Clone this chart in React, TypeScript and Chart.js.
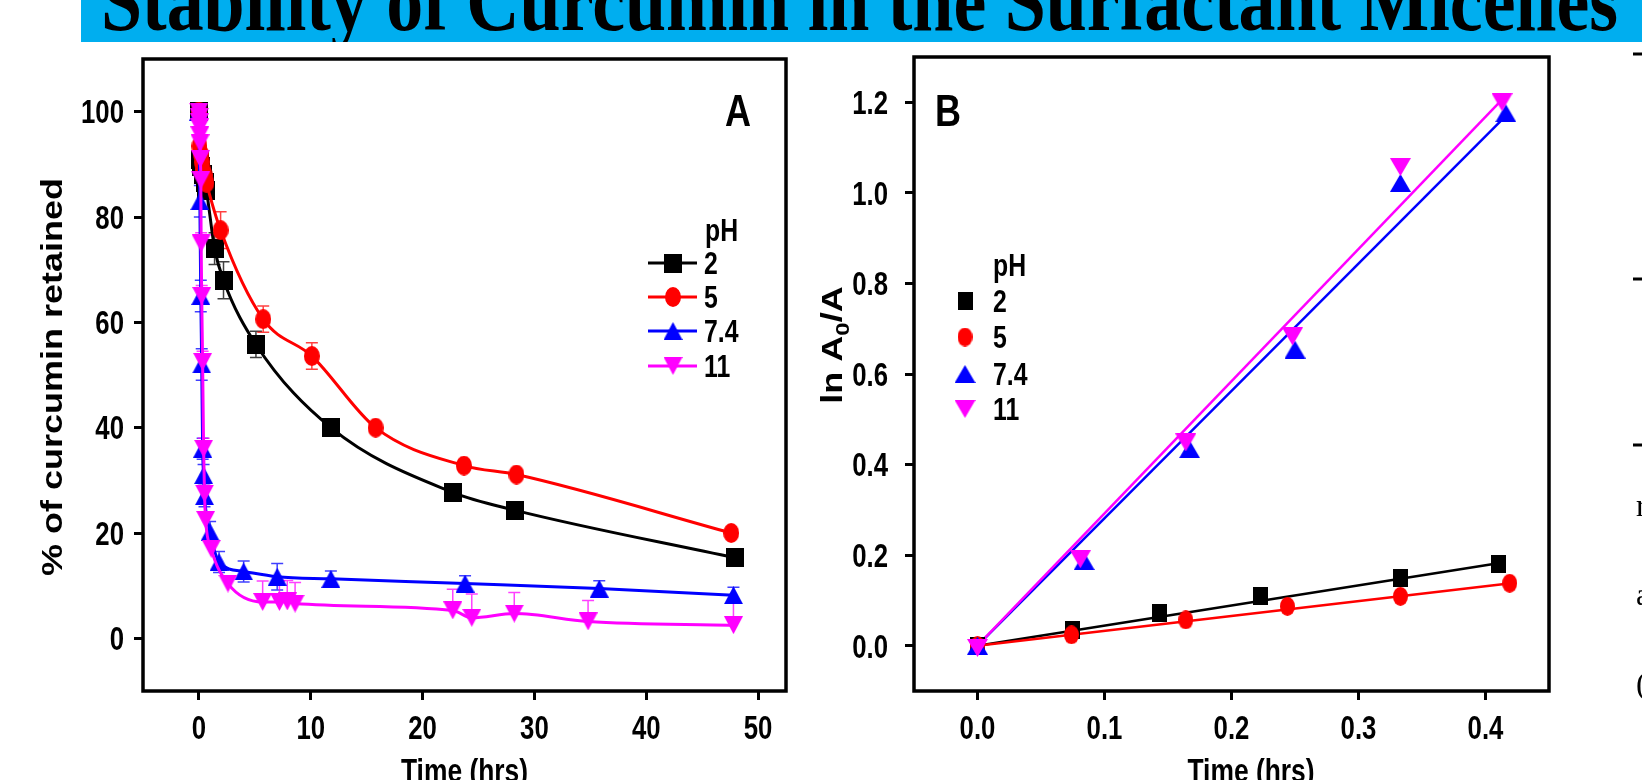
import React, { useEffect, useRef } from 'react';
import { Chart, registerables } from 'chart.js';

Chart.register(...registerables);

// ---------------- text ----------------
const slideTitle = 'Stability of Curcumin in the Surfactant Micelles';
const legendTitle = 'pH';
const seriesNames = ['2', '5', '7.4', '11'];
const seriesColors = ['#000000', '#ff0000', '#0000ff', '#ff00ff'];
const panelALabel = 'A';
const panelBLabel = 'B';
const xTitle = 'Time (hrs)';
const yTitleA = '% of curcumin retained';
const sideFragments = ['r', 'a', '('];

// ---------------- panel A : % retained vs time ----------------
const aTicksX = [0, 10, 20, 30, 40, 50];
const aTicksY = [0, 20, 40, 60, 80, 100];

const aTime_pH2 = [0, 0.08, 0.17, 0.33, 0.5, 0.67, 1.4, 2.2, 5.1, 11.8, 22.7, 28.3, 47.9];
const aRet_pH2 = [100, 91, 89.5, 88, 86.5, 85, 74, 68, 55.8, 40, 27.7, 24.3, 15.3];
const aErr_pH2 = [0, 1.5, 1.5, 1.5, 1.5, 1.5, 3, 3.5, 2.5, 1.5, 1, 1, 1];

const aTime_pH5 = [0, 0.05, 0.17, 0.25, 0.33, 0.5, 0.67, 1.94, 5.75, 10.1, 15.8, 23.7, 28.4, 47.6];
const aRet_pH5 = [100, 93.5, 92, 90.5, 89, 88, 86.5, 77.5, 60.6, 53.6, 40, 32.8, 31.1, 20.0];
const aErr_pH5 = [0, 1, 1, 1, 1, 1, 1, 3.5, 2.5, 2.5, 1, 0.8, 0.8, 0.8];

const aTime_pH74 = [0, 0.083, 0.167, 0.25, 0.333, 0.417, 0.5, 1.0, 1.8, 4.0, 7.0, 11.8, 23.8, 35.8, 47.8];
const aRet_pH74 = [100, 83, 65, 52, 36, 31, 27, 20.2, 14.5, 12.7, 11.7, 11.3, 10.4, 9.45, 8.2];
const aErr_pH74 = [0, 3, 3, 3, 2, 2, 2, 2, 2, 2, 2.5, 1.5, 1.5, 1.5, 1.5];

const aTime_pH11 = [0, 0.02, 0.04, 0.06, 0.08, 0.1, 0.13, 0.17, 0.2, 0.25, 0.33, 0.42, 0.5, 0.6, 1.1, 2.6, 5.7, 7.2, 7.9, 8.6, 22.7, 24.4, 28.2, 34.8, 47.8];
const aRet_pH11 = [100, 99, 98, 97, 95.5, 94, 91, 87, 75, 65, 52.5, 36, 27.5, 22.5, 17, 10.4, 6.9, 6.9, 7.0, 6.6, 5.3, 3.9, 4.7, 3.2, 2.5];
const aErr_pH11 = [0, 0, 0, 0, 0, 0, 0, 0, 2, 2, 2, 2, 1.5, 1.5, 1.5, 1.5, 4, 4, 4, 4, 4, 4.5, 4, 4, 5];

// ---------------- panel B : ln(A0/A) vs time ----------------
const bTicksX = [0, 0.1, 0.2, 0.3, 0.4];
const bTicksY = [0, 0.2, 0.4, 0.6, 0.8, 1.0, 1.2];

const bTime_pH2 = [0, 0.075, 0.143, 0.223, 0.333, 0.41];
const bLn_pH2 = [0, 0.035, 0.072, 0.109, 0.149, 0.18];
const bTime_pH5 = [0, 0.074, 0.164, 0.244, 0.333, 0.419];
const bLn_pH5 = [0, 0.024, 0.057, 0.087, 0.109, 0.138];
const bTime_pH74 = [0, 0.084, 0.167, 0.25, 0.333, 0.416];
const bLn_pH74 = [0, 0.187, 0.434, 0.654, 1.022, 1.176];
const bTime_pH11 = [0, 0.081, 0.164, 0.248, 0.333, 0.413];
const bLn_pH11 = [-0.005, 0.191, 0.449, 0.683, 1.057, 1.2];

// linear fits (start and end of each fitted line)
const bFitX_pH2 = [0, 0.41];
const bFitY_pH2 = [0, 0.182];
const bFitX_pH5 = [0, 0.42];
const bFitY_pH5 = [0, 0.138];
const bFitX_pH74 = [0, 0.416];
const bFitY_pH74 = [0, 1.17];
const bFitX_pH11 = [0, 0.413];
const bFitY_pH11 = [0, 1.206];

// ---------------- style ----------------
const SANS = '"Liberation Sans", Arial, sans-serif';
const SERIF = '"Liberation Serif", "Times New Roman", serif';
const SQUISH = 0.8;
const TICK_SIZE = 33;
const TICK_SQUISH = 0.78;

const zip = (xs: number[], ys: number[]) => xs.map((x, i) => ({ x, y: ys[i] }));
const fmtInt = (v: number) => String(Math.round(v));
const fmt1 = (v: number) => v.toFixed(1);

function marker(shape: string, color: string, w: number, h: number) {
  const c = document.createElement('canvas');
  c.width = w;
  c.height = h;
  const g = c.getContext('2d')!;
  g.fillStyle = color;
  g.beginPath();
  if (shape === 'square') g.rect(0, 0, w, h);
  else if (shape === 'circle') g.ellipse(w / 2, h / 2, w / 2, h / 2, 0, 0, Math.PI * 2);
  else if (shape === 'up') { g.moveTo(w / 2, 0); g.lineTo(w, h); g.lineTo(0, h); g.closePath(); }
  else { g.moveTo(0, 0); g.lineTo(w, 0); g.lineTo(w / 2, h); g.closePath(); }
  g.fill();
  return c;
}

function drawText(ctx: CanvasRenderingContext2D, text: string, x: number, y: number, o: any) {
  ctx.save();
  ctx.translate(x, y);
  ctx.scale(o.sx ?? SQUISH, 1);
  if (o.rotate) ctx.rotate(o.rotate);
  ctx.font = `bold ${o.size}px ${o.family ?? SANS}`;
  ctx.textAlign = o.align ?? 'center';
  ctx.textBaseline = 'alphabetic';
  ctx.fillStyle = '#000';
  ctx.fillText(text, 0, 0.358 * o.size);
  ctx.restore();
}

const errorBarPlugin = {
  id: 'errorBars',
  beforeDatasetsDraw(chart: any) {
    const { ctx } = chart;
    const xs = chart.scales.x;
    const ys = chart.scales.y;
    chart.data.datasets.forEach((ds: any) => {
      if (!ds.errors) return;
      ctx.save();
      ctx.strokeStyle = ds.borderColor;
      ctx.globalAlpha = 0.75;
      ctx.lineWidth = 1.5;
      ds.data.forEach((p: any, j: number) => {
        const e = ds.errors[j];
        if (!e) return;
        const px = xs.getPixelForValue(p.x);
        const y1 = ys.getPixelForValue(p.y + e);
        const y2 = ys.getPixelForValue(ds.errorUpOnly ? p.y : p.y - e);
        ctx.beginPath();
        ctx.moveTo(px, y1); ctx.lineTo(px, y2);
        ctx.moveTo(px - 6, y1); ctx.lineTo(px + 6, y1);
        if (!ds.errorUpOnly) { ctx.moveTo(px - 6, y2); ctx.lineTo(px + 6, y2); }
        ctx.stroke();
      });
      ctx.restore();
    });
  },
};

function decorPlugin(cfg: any) {
  return {
    id: 'decor',
    afterDraw(chart: any) {
      const { ctx, chartArea: a } = chart;
      ctx.save();
      ctx.strokeStyle = '#000';
      ctx.lineWidth = 3.5;
      ctx.strokeRect(a.left, a.top, a.right - a.left, a.bottom - a.top);
      ctx.restore();
      const xs = chart.scales.x;
      const ys = chart.scales.y;
      xs.ticks.forEach((t: any) => drawText(ctx, cfg.fmtX(t.value), xs.getPixelForValue(t.value), cfg.xLabelY, { size: TICK_SIZE, sx: TICK_SQUISH }));
      ys.ticks.forEach((t: any) => drawText(ctx, cfg.fmtY(t.value), cfg.yLabelRight, ys.getPixelForValue(t.value), { size: TICK_SIZE, sx: TICK_SQUISH, align: 'right' }));
      cfg.draw(ctx, a);
    },
  };
}

function axisOpts(ticks: number[], min: number, max: number, size: { w?: number; h?: number }) {
  return {
    type: 'linear',
    min,
    max,
    afterBuildTicks: (s: any) => { s.ticks = ticks.map((v) => ({ value: v })); },
    afterFit: (s: any) => {
      if (size.w !== undefined) s.width = size.w;
      if (size.h !== undefined) s.height = size.h;
    },
    grid: { drawOnChartArea: false, drawTicks: true, tickLength: 9, lineWidth: 3, color: '#000' },
    border: { display: false },
    ticks: { display: false, autoSkip: false },
  };
}

export default function App() {
  const decoRef = useRef<HTMLCanvasElement>(null);
  const aRef = useRef<HTMLCanvasElement>(null);
  const bRef = useRef<HTMLCanvasElement>(null);

  useEffect(() => {
    // banner & fragments
    const d = decoRef.current!.getContext('2d')!;
    d.clearRect(0, 0, 1642, 780);
    d.fillStyle = '#00aeef';
    d.fillRect(81, 0, 1642 - 81, 42);
    d.save();
    d.beginPath();
    d.rect(81, 0, 1642 - 81, 42);
    d.clip();
    d.fillStyle = '#000';
    d.font = `bold 86px ${SERIF}`;
    d.textAlign = 'left';
    d.textBaseline = 'alphabetic';
    d.fillText(slideTitle, 101, 30, 1517);
    d.restore();
    d.strokeStyle = '#000';
    d.lineWidth = 3;
    [54, 279, 445].forEach((y) => { d.beginPath(); d.moveTo(1633, y); d.lineTo(1642, y); d.stroke(); });
    d.fillStyle = '#000';
    d.font = `32px ${SERIF}`;
    d.textBaseline = 'middle';
    [508, 597, 686].forEach((y, i) => d.fillText(sideFragments[i], 1636, y));

    // markers
    const mA = [marker('square', seriesColors[0], 18, 19), marker('circle', seriesColors[1], 16, 20), marker('up', seriesColors[2], 19, 18), marker('down', seriesColors[3], 19, 18)];
    const mB = [marker('square', seriesColors[0], 15, 18), marker('circle', seriesColors[1], 15, 19), marker('up', seriesColors[2], 21, 18), marker('down', seriesColors[3], 21, 18)];

    const aSeries = [
      { t: aTime_pH2, v: aRet_pH2, e: aErr_pH2 },
      { t: aTime_pH5, v: aRet_pH5, e: aErr_pH5 },
      { t: aTime_pH74, v: aRet_pH74, e: aErr_pH74 },
      { t: aTime_pH11, v: aRet_pH11, e: aErr_pH11 },
    ];

    const chartA = new Chart(aRef.current!, {
      type: 'scatter',
      data: {
        datasets: aSeries.map((s, i) => ({
          label: seriesNames[i],
          data: zip(s.t, s.v),
          errors: s.e,
          errorUpOnly: i === 3,
          showLine: true,
          borderColor: seriesColors[i],
          backgroundColor: seriesColors[i],
          borderWidth: 3,
          cubicInterpolationMode: 'monotone',
          pointStyle: mA[i],
          pointRadius: 9,
          order: 4 - i,
        })) as any,
      },
      options: {
        responsive: false,
        animation: false,
        devicePixelRatio: 1,
        layout: { padding: { top: 17, right: 14, left: 0, bottom: 0 } },
        plugins: { legend: { display: false }, tooltip: { enabled: false } },
        scales: {
          x: axisOpts(aTicksX, -5, 52.5, { h: 89 }) as any,
          y: axisOpts(aTicksY, -10, 110, { w: 143 }) as any,
        },
      },
      plugins: [
        errorBarPlugin,
        decorPlugin({
          fmtX: fmtInt,
          fmtY: fmtInt,
          xLabelY: 685,
          yLabelRight: 124,
          draw: (ctx: CanvasRenderingContext2D, a: any) => {
            drawText(ctx, yTitleA, 52, 335, { size: 36, rotate: -Math.PI / 2 });
            drawText(ctx, xTitle, (a.left + a.right) / 2, 728, { size: 33 });
            drawText(ctx, panelALabel, 738, 68, { size: 45 });
            drawText(ctx, legendTitle, 705, 188, { size: 31, align: 'left' });
            const ys = [221, 255, 289, 324];
            ys.forEach((y, i) => {
              ctx.save();
              ctx.strokeStyle = seriesColors[i];
              ctx.lineWidth = 3;
              ctx.beginPath(); ctx.moveTo(648, y); ctx.lineTo(697, y); ctx.stroke();
              ctx.drawImage(mA[i], 673 - mA[i].width / 2, y - mA[i].height / 2);
              ctx.restore();
              drawText(ctx, seriesNames[i], 704, y, { size: 31, align: 'left' });
            });
          },
        }),
      ],
    });

    const bSeries = [
      { t: bTime_pH2, v: bLn_pH2, fx: bFitX_pH2, fy: bFitY_pH2 },
      { t: bTime_pH5, v: bLn_pH5, fx: bFitX_pH5, fy: bFitY_pH5 },
      { t: bTime_pH74, v: bLn_pH74, fx: bFitX_pH74, fy: bFitY_pH74 },
      { t: bTime_pH11, v: bLn_pH11, fx: bFitX_pH11, fy: bFitY_pH11 },
    ];
    const bDatasets: any[] = [];
    bSeries.forEach((s, i) => {
      bDatasets.push({
        label: seriesNames[i],
        data: zip(s.t, s.v),
        showLine: false,
        borderColor: seriesColors[i],
        backgroundColor: seriesColors[i],
        pointStyle: mB[i],
        pointRadius: 9,
        order: 4 - i,
      });
      bDatasets.push({
        label: seriesNames[i] + ' fit',
        data: zip(s.fx, s.fy),
        showLine: true,
        borderColor: seriesColors[i],
        borderWidth: 2.5,
        pointRadius: 0,
        order: 10 - i,
      });
    });

    const chartB = new Chart(bRef.current!, {
      type: 'scatter',
      data: { datasets: bDatasets },
      options: {
        responsive: false,
        animation: false,
        devicePixelRatio: 1,
        layout: { padding: { top: 15, right: 93, left: 0, bottom: 0 } },
        plugins: { legend: { display: false }, tooltip: { enabled: false } },
        scales: {
          x: axisOpts(bTicksX, -0.05, 0.45, { h: 89 }) as any,
          y: axisOpts(bTicksY, -0.1, 1.3, { w: 114 }) as any,
        },
      },
      plugins: [
        decorPlugin({
          fmtX: fmt1,
          fmtY: fmt1,
          xLabelY: 685,
          yLabelRight: 88,
          draw: (ctx: CanvasRenderingContext2D) => {
            // rotated title with subscript: ln A0/A
            ctx.save();
            ctx.translate(32, 303);
            ctx.scale(SQUISH, 1);
            ctx.rotate(-Math.PI / 2);
            ctx.fillStyle = '#000';
            ctx.textBaseline = 'alphabetic';
            ctx.textAlign = 'left';
            const big = `bold 36px ${SANS}`;
            const small = `bold 24px ${SANS}`;
            const parts = [
              { t: 'ln A', f: big, dy: 13 },
              { t: '0', f: small, dy: 21 },
              { t: '/A', f: big, dy: 13 },
            ];
            let total = 0;
            parts.forEach((p) => { ctx.font = p.f; total += ctx.measureText(p.t).width; });
            let x = -total / 2;
            parts.forEach((p) => { ctx.font = p.f; ctx.fillText(p.t, x, p.dy); x += ctx.measureText(p.t).width; });
            ctx.restore();

            drawText(ctx, xTitle, 451, 728, { size: 33 });
            drawText(ctx, panelBLabel, 135, 68, { size: 45, align: 'left' });
            drawText(ctx, legendTitle, 193, 223, { size: 31, align: 'left' });
            const ys = [259, 295, 332, 367];
            ys.forEach((y, i) => {
              ctx.drawImage(mB[i], 165 - mB[i].width / 2, y - mB[i].height / 2);
              drawText(ctx, seriesNames[i], 193, y, { size: 31, align: 'left' });
            });
          },
        }),
      ],
    });

    return () => {
      chartA.destroy();
      chartB.destroy();
    };
  }, []);

  return (
    <div style={{ position: 'fixed', left: 0, top: 0, width: 1642, height: 780, overflow: 'hidden', background: '#fff' }}>
      <canvas ref={decoRef} width={1642} height={780} style={{ position: 'absolute', left: 0, top: 0, width: 1642, height: 780 }} />
      <canvas ref={aRef} width={800} height={738} style={{ position: 'absolute', left: 0, top: 42, width: 800, height: 738 }} />
      <canvas ref={bRef} width={842} height={738} style={{ position: 'absolute', left: 800, top: 42, width: 842, height: 738 }} />
    </div>
  );
}
